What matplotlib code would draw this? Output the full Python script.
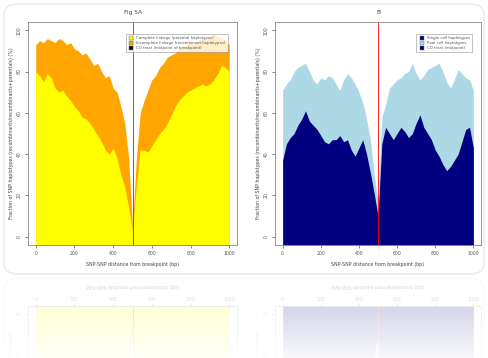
import numpy as np
import matplotlib
matplotlib.use("Agg")
import matplotlib.pyplot as plt
from matplotlib.patches import FancyBboxPatch

# distance from breakpoint (bp), one value every 20 bp
dist = list(range(0, 1001, 20))

# panel A: two stacked layers (%)
a_total = [93, 95, 94, 96, 95, 94, 96, 95, 93, 94, 91, 90, 88, 89, 86, 83, 84, 80, 77, 78,
           72, 70, 63, 55, 38, 5, 38, 60, 66, 71, 76, 78, 82, 84, 87, 88, 89, 91, 92, 93,
           94, 93, 95, 96, 95, 97, 98, 97, 96, 95, 93]
a_lower = [80, 78, 75, 79, 77, 72, 70, 71, 68, 66, 63, 61, 58, 57, 55, 52, 49, 46, 42, 40,
           43, 38, 30, 24, 14, 3, 25, 42, 42, 41, 44, 47, 50, 52, 55, 59, 63, 66, 68, 70,
           71, 72, 73, 74, 73, 74, 76, 79, 83, 82, 80]

# panel B
b_total = [71, 74, 76, 80, 82, 83, 84, 80, 76, 74, 77, 76, 78, 77, 74, 71, 76, 79, 77, 74,
           70, 65, 57, 47, 30, 18, 58, 64, 72, 74, 76, 77, 79, 80, 84, 79, 76, 78, 81, 82,
           83, 84, 80, 75, 72, 76, 81, 79, 77, 76, 71]
b_lower = [37, 45, 48, 50, 54, 57, 61, 56, 54, 52, 49, 46, 45, 47, 47, 49, 46, 47, 42, 39,
           43, 47, 40, 31, 21, 10, 45, 53, 50, 47, 50, 53, 51, 48, 50, 55, 59, 53, 50, 47,
           42, 39, 35, 32, 34, 37, 40, 46, 52, 53, 43]

breakpoint = 500
xticks = [0, 200, 400, 600, 800, 1000]
yticks = [0, 20, 40, 60, 80, 100]

ylab = "Fraction of SNP haplotypes (recombinants/recombinants+parentals) (%)"
xlab = "SNP-SNP distance from breakpoint (bp)"

W, H = 488, 358
fig = plt.figure(figsize=(W / 100, H / 100), dpi=100)
fig.patch.set_facecolor("white")

# faint rounded frame round the panels
fig.patches.append(FancyBboxPatch((4 / W, 84 / H), 480 / W, 270 / H,
                                  boxstyle="round,pad=0,rounding_size=0.03",
                                  transform=fig.transFigure, facecolor="none",
                                  edgecolor="#e4e4e4", linewidth=0.8))


def panel(rect, title, top, low, c_top, c_low, labels, mk_cols):
    ax = fig.add_axes(rect)
    ax.set_xlim(-40, 1040)
    ax.set_ylim(-4, 104)
    ax.fill_between(dist, -4, top, color=c_top, linewidth=0)
    ax.fill_between(dist, -4, low, color=c_low, linewidth=0)
    ax.axvline(breakpoint, color="red", linewidth=0.6)
    ax.set_xticks(xticks)
    ax.set_yticks(yticks)
    ax.set_xticklabels([str(t) for t in xticks], fontsize=3.3, color="#444444")
    ax.set_yticklabels([str(t) for t in yticks], fontsize=3.3, color="#444444",
                       rotation=90, va="center")
    ax.tick_params(length=2.5, width=0.5, pad=2, colors="#555555")
    for s in ax.spines.values():
        s.set_color("#888888")
        s.set_linewidth(0.6)
    ax.set_title(title, fontsize=4.2, color="#444444", pad=6)
    ax.set_xlabel(xlab, fontsize=3.4, color="#444444", labelpad=4)
    ax.set_ylabel(ylab, fontsize=3.4, color="#444444", labelpad=2)
    handles = [plt.Line2D([], [], marker="s", linestyle="none", markersize=2.6,
                          markerfacecolor=c, markeredgecolor="#666666",
                          markeredgewidth=0.3) for c in mk_cols]
    leg = ax.legend(handles, labels, loc="upper right", fontsize=2.8,
                    frameon=True, fancybox=False, borderpad=0.5,
                    handletextpad=0.3, labelspacing=0.25,
                    bbox_to_anchor=(0.965, 0.955))
    leg.get_frame().set_edgecolor("#777777")
    leg.get_frame().set_linewidth(0.4)
    for t in leg.get_texts():
        t.set_color("#555555")
    return ax


panel([28 / W, 113 / H, 209 / W, 223 / H], "Fig 5A", a_total, a_lower,
      "#FFA500", "#FFFF00",
      ["Complete linkage (parental haplotypes)",
       "Incomplete linkage (recombinant haplotypes)",
       "CO tract (midpoint of breakpoint)"],
      ["#FFFF00", "#FFA500", "#111111"])

panel([275 / W, 113 / H, 206 / W, 223 / H], "B", b_total, b_lower,
      "#ADD8E6", "#000080",
      ["Single cell haplotypes",
       "Pool cell haplotypes",
       "CO tract (midpoint)"],
      ["#000080", "#ADD8E6", "#000080"])

# mirrored, fading reflection under the panels
fig.canvas.draw()
img = np.asarray(fig.canvas.buffer_rgba())[:, :, :3].astype(float) / 255.0
axis_row = 276
n = H - axis_row
refl = img[axis_row - n:axis_row][::-1]
alpha = np.linspace(0.24, 0.03, n)[:, None, None]
refl = 1.0 - alpha * (1.0 - refl)
rax = fig.add_axes([0, 0, 1, n / H])
rax.imshow(refl, aspect="auto", interpolation="bilinear")
rax.axis("off")

fig.savefig("out.png", dpi=100)
